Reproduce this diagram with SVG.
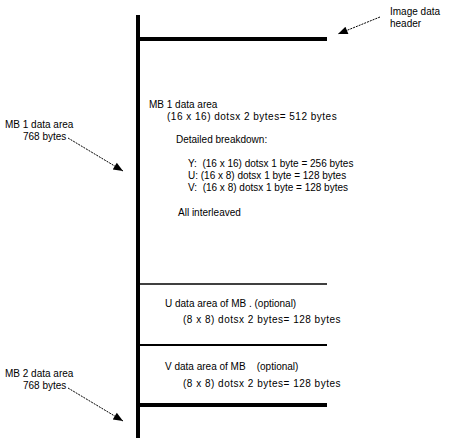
<svg xmlns="http://www.w3.org/2000/svg" width="451" height="447" viewBox="0 0 451 447">
<style>
text{font-family:"Liberation Sans",Arial,sans-serif;font-size:10px;fill:#000;white-space:pre}
.w{letter-spacing:0.5px}
.thick{stroke:#000;stroke-width:4;fill:none}
.thin{stroke:#000;stroke-width:1.5;fill:none}
.dash{stroke:#000;stroke-width:1;stroke-dasharray:2,1;fill:none}
</style>
<defs>
<marker id="ah" viewBox="0 0 12 10" refX="12" refY="5" markerWidth="12" markerHeight="8" orient="auto" markerUnits="userSpaceOnUse">
<path d="M0,0 L12,5 L0,10 z" fill="#000"/>
</marker>
</defs>
<g id="structure">
<line class="thick" x1="138" y1="15" x2="138" y2="438"/>
<line class="thick" x1="138" y1="39" x2="327" y2="39"/>
<line class="thin" x1="138" y1="284" x2="327" y2="284"/>
<line class="thin" x1="138" y1="345" x2="327" y2="345" style="stroke-width:2"/>
<line class="thick" x1="138" y1="405" x2="327" y2="405"/>
</g>
<g id="connectors">
<line class="dash" x1="380" y1="17" x2="338" y2="34" marker-end="url(#ah)"/>
<line class="dash" x1="68" y1="138" x2="123" y2="171" marker-end="url(#ah)"/>
<line class="dash" x1="68" y1="388" x2="123" y2="421" marker-end="url(#ah)"/>
</g>
<g id="header-label">
<text x="390" y="15">Image data</text>
<text x="390" y="27">header</text>
</g>
<g id="mb1-label">
<text x="5" y="128">MB 1 data area</text>
<text x="23" y="140">768 bytes</text>
</g>
<g id="mb2-label">
<text x="5" y="377">MB 2 data area</text>
<text x="23" y="389">768 bytes</text>
</g>
<g id="mb1-area">
<text x="149" y="108">MB 1 data area</text>
<text class="w" x="167" y="120">(16 x 16) dotsx 2 bytes= 512 bytes</text>
<text x="176" y="143">Detailed breakdown:</text>
<text x="188" y="167">Y:  (16 x 16) dotsx 1 byte = 256 bytes</text>
<text x="188" y="179">U: (16 x 8) dotsx 1 byte = 128 bytes</text>
<text x="188" y="191">V:  (16 x 8) dotsx 1 byte = 128 bytes</text>
<text x="178" y="216">All interleaved</text>
</g>
<g id="u-area">
<text x="165" y="307">U data area of MB . (optional)</text>
<text class="w" x="183" y="323">(8 x 8) dotsx 2 bytes= 128 bytes</text>
</g>
<g id="v-area">
<text x="165" y="370">V data area of MB    (optional)</text>
<text class="w" x="183" y="387">(8 x 8) dotsx 2 bytes= 128 bytes</text>
</g>
</svg>
